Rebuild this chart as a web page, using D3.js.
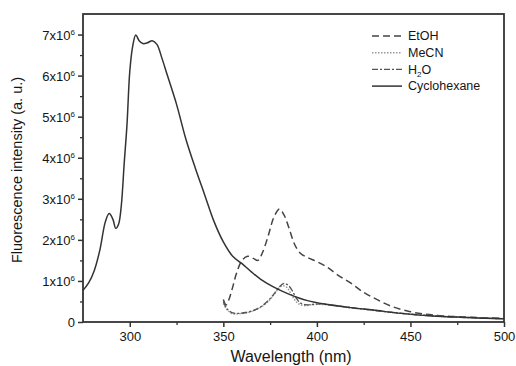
<!DOCTYPE html>
<html>
<head>
<meta charset="utf-8">
<script src="https://cdn.jsdelivr.net/npm/d3@7"></script>
<style>
  body { margin: 0; background: #fff; }
  text { font-family: "Liberation Sans", Arial, sans-serif; fill: #151515; }
</style>
</head>
<body>
<div id="chart"></div>
<script>
// chart data (intensity in units of 1e6)
var cycloX = [275, 278, 281, 284, 287, 289, 291, 292.5, 294, 295.5, 297, 298.5, 300, 301.5, 303.2, 305, 307, 309.5, 312, 314.5, 317, 320, 325, 330, 335, 340, 345, 350, 355, 360, 365, 370, 377, 385, 395, 405, 418, 430, 445, 460, 475, 490, 500];
var cycloY = [0.77, 0.95, 1.25, 1.75, 2.45, 2.64, 2.5, 2.28, 2.38, 2.85, 3.85, 4.8, 6.1, 6.7, 6.99, 6.85, 6.78, 6.8, 6.85, 6.76, 6.45, 6.02, 5.3, 4.45, 3.75, 3.1, 2.45, 1.95, 1.6, 1.42, 1.22, 1.04, 0.85, 0.68, 0.52, 0.43, 0.35, 0.29, 0.21, 0.15, 0.12, 0.09, 0.08];

var etohX = [350, 351.5, 353, 355, 357, 360, 363, 366, 368.5, 371, 374, 377, 380, 382.5, 385, 388, 391, 395, 400, 405, 411, 418, 425, 432, 440, 450, 460, 470, 480, 490, 500];
var etohY = [0.55, 0.42, 0.55, 0.85, 1.18, 1.5, 1.6, 1.55, 1.5, 1.7, 2.1, 2.55, 2.75, 2.6, 2.3, 1.9, 1.68, 1.57, 1.47, 1.35, 1.15, 0.95, 0.72, 0.55, 0.38, 0.25, 0.18, 0.14, 0.12, 0.1, 0.09];

var mecnX = [350, 352, 355, 358, 362, 366, 370, 374, 377, 380, 382, 384, 386, 388, 390, 393, 397, 402, 410, 420, 435, 450, 465, 480, 500];
var mecnY = [0.45, 0.3, 0.2, 0.2, 0.22, 0.27, 0.36, 0.5, 0.66, 0.84, 0.88, 0.84, 0.7, 0.55, 0.45, 0.4, 0.42, 0.43, 0.4, 0.34, 0.26, 0.19, 0.14, 0.11, 0.08];

var waterX = [350, 352, 355, 358, 362, 366, 370, 374, 377, 380, 382.5, 385, 387, 389, 391, 394, 398, 403, 410, 420, 435, 450, 465, 480, 500];
var waterY = [0.5, 0.32, 0.22, 0.21, 0.23, 0.28, 0.37, 0.52, 0.68, 0.86, 0.94, 0.88, 0.75, 0.58, 0.47, 0.42, 0.43, 0.44, 0.4, 0.34, 0.26, 0.19, 0.14, 0.11, 0.08];

var xTicks = [300, 350, 400, 450, 500];
var yTicks = [0, 1, 2, 3, 4, 5, 6, 7];
var legendNames = ["EtOH", "MeCN", "H2O", "Cyclohexane"];

// svg size and plot area
var svgWidth = 516;
var svgHeight = 366;
var margin = { top: 14, right: 12, bottom: 44, left: 83 };
var width = svgWidth - margin.left - margin.right;
var height = svgHeight - margin.top - margin.bottom;

var svg = d3.select("#chart")
  .append("svg")
  .attr("width", svgWidth)
  .attr("height", svgHeight);

var chartGroup = svg.append("g")
  .attr("transform", `translate(${margin.left}, ${margin.top})`);

// scales
var xScale = d3.scaleLinear().domain([275, 500]).range([0, width]);
var yScale = d3.scaleLinear().domain([0, 7.5]).range([height, 0]);

// minor ticks
var xMinor = d3.range(325, 500, 50);
var yMinor = d3.range(0.5, 7.5, 1);

chartGroup.append("g")
  .attr("transform", `translate(0, ${height})`)
  .call(d3.axisBottom(xScale).tickValues(xMinor).tickSize(3).tickFormat(""))
  .call(g => g.select(".domain").remove())
  .selectAll("line").attr("stroke", "#333").attr("stroke-width", 1.3);

chartGroup.append("g")
  .call(d3.axisLeft(yScale).tickValues(yMinor).tickSize(3).tickFormat(""))
  .call(g => g.select(".domain").remove())
  .selectAll("line").attr("stroke", "#333").attr("stroke-width", 1.3);

// major axes
var xAxis = chartGroup.append("g")
  .attr("transform", `translate(0, ${height})`)
  .call(d3.axisBottom(xScale).tickValues(xTicks).tickSize(5).tickPadding(5));

var yAxis = chartGroup.append("g")
  .call(d3.axisLeft(yScale).tickValues(yTicks).tickSize(5).tickPadding(4).tickFormat(""));

[xAxis, yAxis].forEach(function(ax) {
  ax.select(".domain").remove();
  ax.selectAll("line").attr("stroke", "#333").attr("stroke-width", 1.5);
  ax.selectAll("text")
    .style("font-family", "Liberation Sans, Arial, sans-serif")
    .style("font-size", "13px")
    .attr("fill", "#151515");
});

// y tick labels with superscript exponent
yAxis.selectAll(".tick").each(function(d) {
  var t = d3.select(this).select("text")
    .attr("x", -8)
    .attr("dy", "0.35em")
    .attr("text-anchor", "end");
  if (d === 0) {
    t.text("0");
  } else {
    t.text("");
    t.append("tspan").text(d + "x10");
    t.append("tspan").attr("dy", "-5").style("font-size", "8px").text("6");
  }
});

// frame
chartGroup.append("rect")
  .attr("width", width)
  .attr("height", height)
  .attr("fill", "none")
  .attr("stroke", "#333")
  .attr("stroke-width", 1.8);

// lines
var makeLine = d3.line()
  .x(d => xScale(d[0]))
  .y(d => yScale(d[1]))
  .curve(d3.curveCatmullRom.alpha(0.5));

var seriesList = [
  { xs: etohX, ys: etohY, dash: "7,4", color: "#444", w: 1.5 },
  { xs: mecnX, ys: mecnY, dash: "1.5,1.5", color: "#999", w: 1.5 },
  { xs: waterX, ys: waterY, dash: "6,2,2,2", color: "#555", w: 1.4 },
  { xs: cycloX, ys: cycloY, dash: null, color: "#333", w: 1.5 }
];

seriesList.forEach(function(s) {
  var pts = s.xs.map((x, i) => [x, s.ys[i]]);
  chartGroup.append("path")
    .datum(pts)
    .attr("d", makeLine)
    .attr("fill", "none")
    .attr("stroke", s.color)
    .attr("stroke-width", s.w)
    .attr("stroke-dasharray", s.dash);
});

// legend
var legend = svg.append("g").attr("transform", "translate(372, 36)");
legendNames.forEach(function(name, i) {
  var s = seriesList[i];
  var row = legend.append("g").attr("transform", `translate(0, ${i * 16.7})`);
  row.append("line")
    .attr("x1", 0).attr("x2", 30)
    .attr("stroke", s.color)
    .attr("stroke-width", s.w)
    .attr("stroke-dasharray", s.dash);
  var t = row.append("text")
    .attr("x", 36)
    .attr("dy", "0.35em")
    .style("font-size", "12.5px");
  if (name === "H2O") {
    t.append("tspan").text("H");
    t.append("tspan").attr("dy", "3").style("font-size", "8px").text("2");
    t.append("tspan").attr("dy", "-3").text("O");
  } else {
    t.text(name);
  }
});

// axis titles
svg.append("text")
  .attr("transform", `translate(22, ${margin.top + height / 2 + 2}) rotate(-90)`)
  .attr("text-anchor", "middle")
  .style("font-size", "14.5px")
  .text("Fluorescence intensity (a. u.)");

svg.append("text")
  .attr("x", 291)
  .attr("y", 362)
  .attr("text-anchor", "middle")
  .style("font-size", "16px")
  .text("Wavelength (nm)");
</script>
</body>
</html>
